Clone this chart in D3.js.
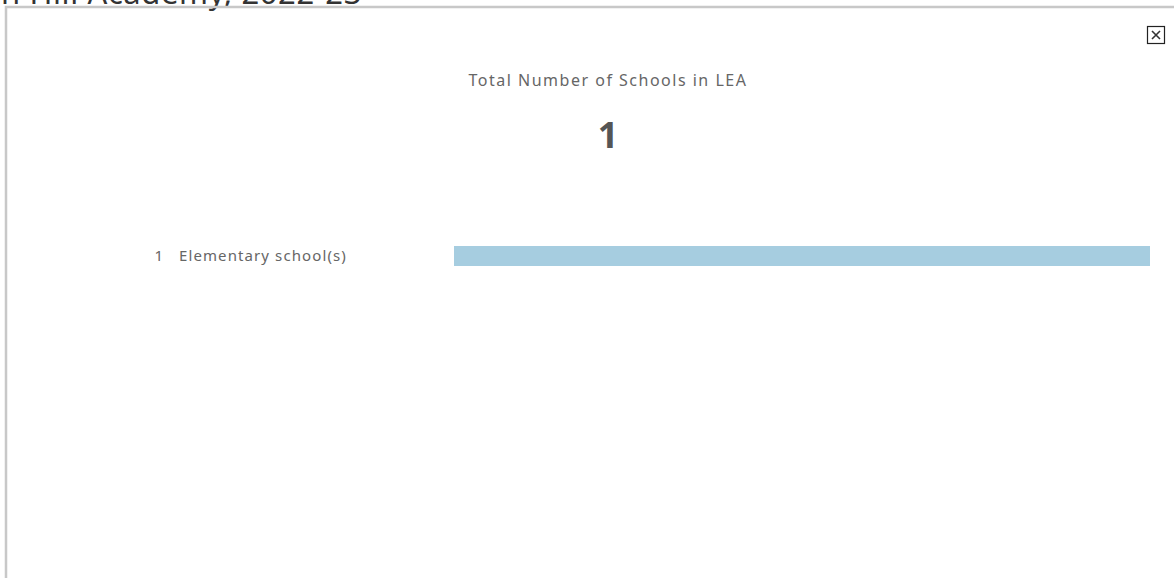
<html>
    <head>
        <title>Schools in LEA</title>
        <script src="https://cdn.jsdelivr.net/npm/d3@7/dist/d3.min.js"></script>
        <style>
            body { margin:0; background:#fff; }
            text { font-family: "Noto Sans", "Open Sans", sans-serif; }
        </style>
    </head>
    <body>
        <svg style="width:1174px;height:578px;display:block"></svg>
        <script>
            var pageTitle = "on Hill Academy, 2022-23";
            var kpiTitle = "Total Number of Schools in LEA";
            var schoolTypes = ["Elementary school(s)"];
            var schoolCounts = [1];
            var totalSchools = d3.sum(schoolCounts);

            var svg = d3.select("svg");

            // title cut off at top edge
            svg.append("text")
               .attr("x", 362).attr("y", 4)
               .attr("text-anchor", "end")
               .attr("font-size", 31)
               .attr("letter-spacing", 0.6)
               .attr("fill", "#333")
               .text(pageTitle);

            // frame
            svg.append("path")
               .attr("d", "M6,578 V7 H1174")
               .attr("fill", "none")
               .attr("stroke", "#c8c8c8")
               .attr("stroke-width", 2.5);

            // close button
            var btn = svg.append("g").attr("transform", "translate(1147,26)");
            btn.append("rect").attr("x", 0.5).attr("y", 0.5).attr("width", 17).attr("height", 17)
               .attr("fill", "#fff").attr("stroke", "#222").attr("stroke-width", 1.2);
            btn.append("path").attr("d", "M5,5 L13,13 M13,5 L5,13")
               .attr("stroke", "#333").attr("stroke-width", 1.6);

            svg.append("text")
               .attr("x", 608).attr("y", 86)
               .attr("text-anchor", "middle")
               .attr("font-size", 16)
               .attr("letter-spacing", 1.5)
               .attr("fill", "#666")
               .text(kpiTitle);

            svg.append("text")
               .attr("x", 608).attr("y", 148)
               .attr("text-anchor", "middle")
               .attr("font-size", 36)
               .attr("font-weight", "bold")
               .attr("fill", "#555")
               .text(totalSchools);

            var xScale = d3.scaleLinear().domain([0, d3.max(schoolCounts)]).range([454, 1150]);
            var yScale = d3.scaleBand().domain(schoolTypes).range([246, 266]);

            var rows = svg.selectAll("g.row")
                          .data(schoolTypes)
                          .enter()
                          .append("g")
                          .attr("class", "row");

            rows.append("rect")
                .attr("x", xScale(0))
                .attr("y", d => yScale(d))
                .attr("width", (d, i) => xScale(schoolCounts[i]) - xScale(0))
                .attr("height", yScale.bandwidth())
                .attr("fill", "#a6cde0");

            rows.append("text")
                .attr("x", 163)
                .attr("y", d => yScale(d) + yScale.bandwidth() / 2)
                .attr("dy", "0.35em")
                .attr("text-anchor", "end")
                .attr("font-size", 15)
                .attr("fill", "#666")
                .text((d, i) => schoolCounts[i]);

            rows.append("text")
                .attr("x", 179)
                .attr("y", d => yScale(d) + yScale.bandwidth() / 2)
                .attr("dy", "0.35em")
                .attr("font-size", 15)
                .attr("letter-spacing", 1.1)
                .attr("fill", "#666")
                .text(d => d);
        </script>
    </body>
</html>
